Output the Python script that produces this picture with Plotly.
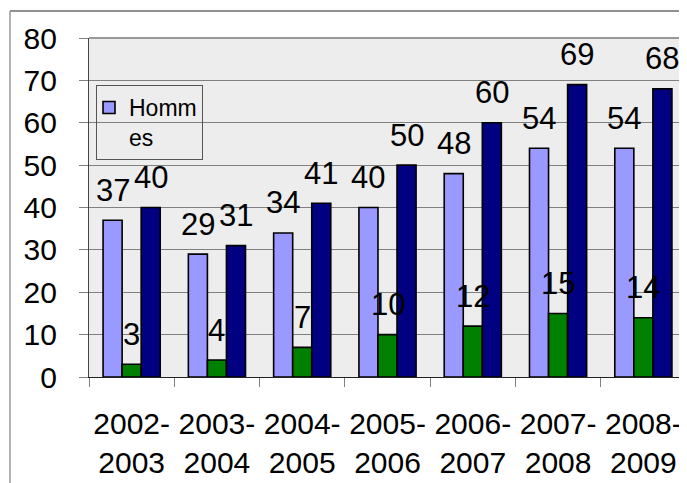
import plotly.graph_objects as go

categories = ["2002-<br>2003", "2003-<br>2004", "2004-<br>2005", "2005-<br>2006",
              "2006-<br>2007", "2007-<br>2008", "2008-<br>2009"]
hommes = [37, 29, 34, 40, 48, 54, 54]
serie2 = [3, 4, 7, 10, 12, 15, 14]
serie3 = [40, 31, 41, 50, 60, 69, 68]

series = [
    ("Homm<br>es", hommes, "#9999FF", True),
    ("Série 2", serie2, "#008000", False),
    ("Série 3", serie3, "#000080", False),
]

# page body has an 8px margin; figure is offset by (8, 8)
OFF = 8
W, H = 687 - OFF, 483 - OFF
L, R, T, B = 89 - OFF, 1, 38 - OFF, 106
pw = W - L - R
ph = H - T - B
bargap = 0.33
bar_px = pw / len(categories) * (1 - bargap) / 3

FONT = "Liberation Sans, Arial, sans-serif"

fig = go.Figure()
annotations = []
for i, (name, vals, color, show) in enumerate(series):
    fig.add_trace(go.Bar(
        x=categories, y=vals, name=name, showlegend=show,
        marker=dict(color=color, line=dict(color="black", width=1.6)),
    ))
    for c, v in zip(categories, vals):
        annotations.append(dict(
            x=c, y=v, xref="x", yref="y", text=str(v), showarrow=False,
            xshift=(i - 1) * bar_px, yshift=30, yanchor="middle",
            font=dict(family=FONT, size=31, color="black"),
        ))

def px_x(p):
    return (p - OFF - L) / pw

def px_y(p):
    return (H + OFF - B - p) / ph

shapes = [
    # outer frame
    dict(type="line", xref="paper", yref="paper", x0=px_x(10), x1=px_x(700),
         y0=px_y(11), y1=px_y(11), line=dict(color="#222222", width=1.2)),
    dict(type="line", xref="paper", yref="paper", x0=px_x(10), x1=px_x(10),
         y0=px_y(11), y1=px_y(500), line=dict(color="#999999", width=1.5)),
    # plot area border (top and right)
    dict(type="line", xref="paper", yref="paper", x0=0, x1=1, y0=1, y1=1,
         line=dict(color="#999999", width=2)),
    dict(type="line", xref="paper", yref="paper", x0=1, x1=1, y0=0, y1=1,
         line=dict(color="#999999", width=2)),
]

fig.update_layout(
    width=W, height=H,
    margin=dict(l=L, r=R, t=T, b=B),
    paper_bgcolor="white",
    plot_bgcolor="#ededed",
    barmode="group",
    bargap=bargap,
    bargroupgap=0,
    font=dict(family=FONT, color="black"),
    showlegend=True,
    legend=dict(
        x=px_x(96), y=px_y(85), xanchor="left", yanchor="top",
        bgcolor="rgba(0,0,0,0)", bordercolor="#555555", borderwidth=1,
        font=dict(family=FONT, size=23, color="black"),
        valign="top", itemwidth=30, indentation=-8,
    ),
    annotations=annotations,
    shapes=shapes,
)
fig.update_yaxes(
    range=[0, 80], dtick=10, showgrid=True, gridcolor="#808080", gridwidth=1,
    ticks="outside", ticklen=9, tickcolor="#808080",
    showline=True, linecolor="#444444", linewidth=1.2,
    tickfont=dict(family=FONT, size=30, color="black"),
    ticklabelstandoff=16, zeroline=False,
)
fig.update_xaxes(
    tickson="boundaries", ticks="outside", ticklen=9, tickcolor="#808080",
    showline=True, linecolor="#222222", linewidth=1.2, showgrid=False,
    tickfont=dict(family=FONT, size=30, color="black"),
    ticklabelstandoff=20, tickangle=0,
)

fig.write_html("out.html")
